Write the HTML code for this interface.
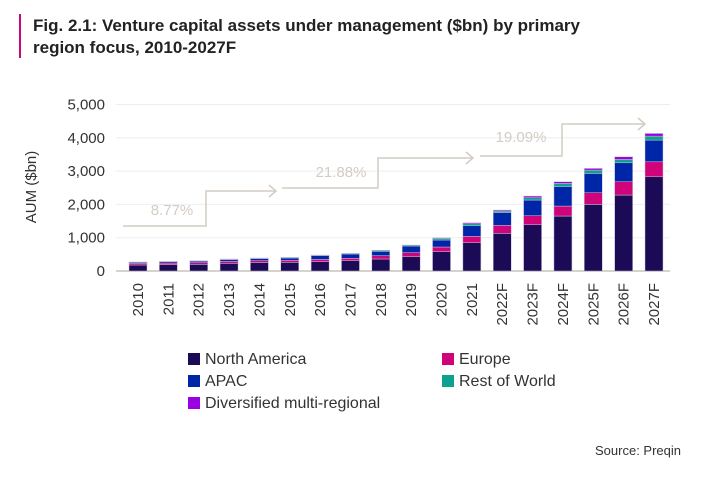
<!DOCTYPE html>
<html><head><meta charset="utf-8"><style>
body{margin:0;background:#fff;width:704px;height:473px;overflow:hidden;font-family:"Liberation Sans",sans-serif;}
</style></head><body>
<svg width="704" height="473" xmlns="http://www.w3.org/2000/svg">
<rect x="19" y="14" width="2" height="44" fill="#d0047a"/>
<text x="33" y="31" font-size="17" font-weight="bold" fill="#222">Fig. 2.1: Venture capital assets under management ($bn) by primary</text>
<text x="33" y="53" font-size="17" font-weight="bold" fill="#222">region focus, 2010-2027F</text>
<text transform="translate(36,187) rotate(-90)" text-anchor="middle" font-size="15" fill="#333">AUM ($bn)</text>
<g id="grid"></g><g id="bars"></g><g id="xl"></g>
<g fill="none" stroke="#d3ccc4" stroke-width="1.5">
<polyline points="123,226 206,226 206,191 276,191"/><polyline points="269,185 276,191 269,197"/>
<polyline points="282,188 378,188 378,158 473,158"/><polyline points="466,152 473,158 466,164"/>
<polyline points="480,156 562,156 562,124 645,124"/><polyline points="638,118 645,124 638,130"/>
</g>
<text x="172" y="215" text-anchor="middle" font-size="15" fill="#d3ccc4">8.77%</text>
<text x="341" y="177" text-anchor="middle" font-size="15" fill="#d3ccc4">21.88%</text>
<text x="521" y="142" text-anchor="middle" font-size="15" fill="#d3ccc4">19.09%</text>
<g font-size="16" fill="#333">
<rect x="188" y="353" width="12" height="12" fill="#1b0a55"/><text x="205" y="364">North America</text>
<rect x="442" y="353" width="12" height="12" fill="#d0047a"/><text x="459" y="364">Europe</text>
<rect x="188" y="375" width="12" height="12" fill="#0026a8"/><text x="205" y="386">APAC</text>
<rect x="442" y="375" width="12" height="12" fill="#10a090"/><text x="459" y="386">Rest of World</text>
<rect x="188" y="397" width="12" height="12" fill="#9b00e0"/><text x="205" y="408">Diversified multi-regional</text>
</g>
<text x="681" y="455" text-anchor="end" font-size="13" fill="#333">Source: Preqin</text>
</svg>
<script>
const categories=["2010","2011","2012","2013","2014","2015","2016","2017","2018","2019","2020","2021","2022F","2023F","2024F","2025F","2026F","2027F"];
const northAmerica=[180,190,200,230,250,260,280,310,360,430,580,850,1130,1390,1650,2000,2280,2830];
const europe=[45,50,50,60,60,60,70,70,100,120,140,190,240,270,300,350,400,450];
const apac=[35,40,45,55,60,70,110,130,130,200,210,320,380,470,580,580,570,650];
const restOfWorld=[10,10,15,15,20,20,20,20,30,30,50,60,50,70,100,100,100,120];
const diversified=[0,0,0,0,0,0,0,0,0,0,20,30,30,50,50,50,80,80];
const yTicks=[0,1000,2000,3000,4000,5000];
const yTickLabels=["0","1,000","2,000","3,000","4,000","5,000"];
const series=[northAmerica,europe,apac,restOfWorld,diversified];
const seriesNames=["north-america","europe","apac","rest-of-world","diversified"];
const colors=["#1b0a55","#d0047a","#0026a8","#10a090","#9b00e0"];
const NS="http://www.w3.org/2000/svg";
const y0=271,yTop=104.5,yMax=5000;
function yScale(v){return y0-(v/yMax)*(y0-yTop);}
function xScale(i){return 138+i*(654-138)/(categories.length-1);}
const grid=document.getElementById('grid');
yTicks.forEach((t,i)=>{
 const l=document.createElementNS(NS,'line');
 l.setAttribute('x1',116);l.setAttribute('x2',670);l.setAttribute('y1',yScale(t));l.setAttribute('y2',yScale(t));
 l.setAttribute('stroke',t===0?'#d8d2cc':'#eeeeee');l.setAttribute('stroke-width',t===0?2:1);
 
 
 grid.appendChild(l);
 const tx=document.createElementNS(NS,'text');
 tx.setAttribute('x',105);tx.setAttribute('y',yScale(t)+5);tx.setAttribute('text-anchor','end');
 tx.setAttribute('font-size','15');tx.setAttribute('fill','#333');tx.textContent=yTickLabels[i];
 
 
 grid.appendChild(tx);
});
const bars=document.getElementById('bars'),xl=document.getElementById('xl');
const bw=18;
categories.forEach((c,i)=>{
 let cum=0;
 series.forEach((s,k)=>{
  const v=s[i]; if(v<=0)return;
  const r=document.createElementNS(NS,'rect');
  r.setAttribute('x',xScale(i)-bw/2);r.setAttribute('y',yScale(cum+v));
  r.setAttribute('width',bw);r.setAttribute('height',yScale(cum)-yScale(cum+v));
  r.setAttribute('fill',colors[k]);r.setAttribute('stroke','#c9bfd8');r.setAttribute('stroke-width','0.5');
  
  
  bars.appendChild(r);cum+=v;
 });
 const t=document.createElementNS(NS,'text');
 t.setAttribute('transform','translate('+(xScale(i)+5)+',283) rotate(-90)');
 t.setAttribute('text-anchor','end');t.setAttribute('font-size','15');t.setAttribute('fill','#333');
 t.textContent=c;
 
 
 xl.appendChild(t);
});
</script>
</body></html>
